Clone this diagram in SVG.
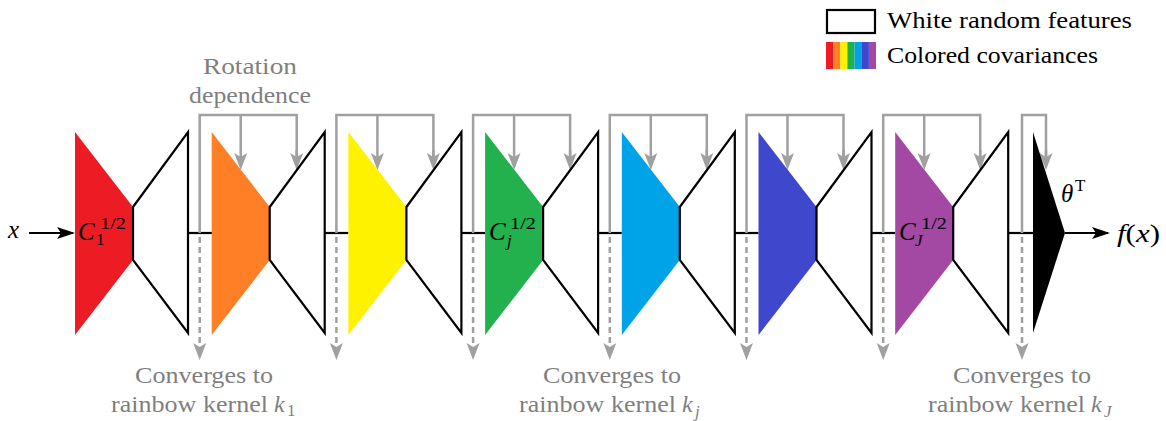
<svg xmlns="http://www.w3.org/2000/svg" width="1166" height="421" viewBox="0 0 1166 421">
<style>
.wf{fill:#fff;stroke:#000;stroke-width:2.2;stroke-linejoin:miter}
.bl{stroke:#000;stroke-width:2.2;fill:none}
.gs{stroke:#a0a0a0;stroke-width:2.5;fill:none}
.gd{stroke:#a0a0a0;stroke-width:2.5;fill:none;stroke-dasharray:6 4}
.gt{font-family:"Liberation Serif","DejaVu Serif",serif;font-size:24px;fill:#7f7f7f}
.lt{font-family:"Liberation Serif","DejaVu Serif",serif;font-size:24px;fill:#000}
.m{font-family:"Liberation Serif","DejaVu Serif",serif;font-style:italic;font-size:25px;fill:#000}
.s{font-family:"Liberation Serif","DejaVu Serif",serif;font-size:17px;fill:#000}
.gm{font-family:"Liberation Serif","DejaVu Serif",serif;font-style:italic;font-size:24px;fill:#7f7f7f}
.gs2{font-family:"Liberation Serif","DejaVu Serif",serif;font-size:17px;fill:#7f7f7f}
</style>
<defs>
<marker id="ga" viewBox="-18 -8 20 16" refX="-12" refY="0" markerWidth="20" markerHeight="16" orient="auto" markerUnits="userSpaceOnUse">
<path d="M0,0 L-17,-6.5 L-13,0 L-17,6.5 Z" fill="#a0a0a0"/>
</marker>
<marker id="ba" viewBox="-20 -8 22 16" refX="-2" refY="0" markerWidth="22" markerHeight="16" orient="auto" markerUnits="userSpaceOnUse">
<path d="M0,0 L-18,-6 L-14,0 L-18,6 Z" fill="#000"/>
</marker>
</defs>

<g id="legend">
<rect x="827" y="10" width="48" height="23" fill="#fff" stroke="#000" stroke-width="2.2"/>
<text class="lt" x="887" y="28" textLength="245" lengthAdjust="spacingAndGlyphs">White random features</text>
<rect x="826" y="42" width="7.2" height="27" fill="#ED1C24"/>
<rect x="833.1" y="42" width="7.2" height="27" fill="#FF7F27"/>
<rect x="840.3" y="42" width="7.2" height="27" fill="#FFF200"/>
<rect x="847.4" y="42" width="7.2" height="27" fill="#22B14C"/>
<rect x="854.6" y="42" width="7.2" height="27" fill="#00A2E8"/>
<rect x="861.7" y="42" width="7.2" height="27" fill="#3F48CC"/>
<rect x="868.9" y="42" width="7.1" height="27" fill="#A349A4"/>
<text class="lt" x="887" y="63" textLength="211" lengthAdjust="spacingAndGlyphs">Colored covariances</text>
</g>

<g id="connectors">
<line class="bl" x1="29" y1="233" x2="73" y2="233" marker-end="url(#ba)"/>
<line class="bl" x1="188" y1="233" x2="212" y2="233"/>
<line class="bl" x1="324.7" y1="233" x2="348.4" y2="233"/>
<line class="bl" x1="461.4" y1="233" x2="485.1" y2="233"/>
<line class="bl" x1="598.1" y1="233" x2="621.8" y2="233"/>
<line class="bl" x1="734.8" y1="233" x2="758.5" y2="233"/>
<line class="bl" x1="871.5" y1="233" x2="895.2" y2="233"/>
<line class="bl" x1="1008.2" y1="233" x2="1033" y2="233"/>
<line class="bl" x1="1065" y1="233" x2="1108" y2="233" marker-end="url(#ba)"/>

<g id="rotation">
<path class="gs" d="M199.7,233 V115 H296.7 V158"/><line class="gs" x1="240.7" y1="115" x2="240.7" y2="158" marker-end="url(#ga)"/><line class="gs" x1="296.7" y1="150" x2="296.7" y2="158" marker-end="url(#ga)"/>
<path class="gs" d="M336.4,233 V115 H433.4 V158"/><line class="gs" x1="377.4" y1="115" x2="377.4" y2="158" marker-end="url(#ga)"/><line class="gs" x1="433.4" y1="150" x2="433.4" y2="158" marker-end="url(#ga)"/>
<path class="gs" d="M473.1,233 V115 H570.1 V158"/><line class="gs" x1="514.1" y1="115" x2="514.1" y2="158" marker-end="url(#ga)"/><line class="gs" x1="570.1" y1="150" x2="570.1" y2="158" marker-end="url(#ga)"/>
<path class="gs" d="M609.8,233 V115 H706.8 V158"/><line class="gs" x1="650.8" y1="115" x2="650.8" y2="158" marker-end="url(#ga)"/><line class="gs" x1="706.8" y1="150" x2="706.8" y2="158" marker-end="url(#ga)"/>
<path class="gs" d="M746.5,233 V115 H843.5 V158"/><line class="gs" x1="787.5" y1="115" x2="787.5" y2="158" marker-end="url(#ga)"/><line class="gs" x1="843.5" y1="150" x2="843.5" y2="158" marker-end="url(#ga)"/>
<path class="gs" d="M883.2,233 V115 H980.2 V158"/><line class="gs" x1="924.2" y1="115" x2="924.2" y2="158" marker-end="url(#ga)"/><line class="gs" x1="980.2" y1="150" x2="980.2" y2="158" marker-end="url(#ga)"/>
<path class="gs" d="M1022,233 V115 H1046 V158"/><line class="gs" x1="1046" y1="150" x2="1046" y2="158" marker-end="url(#ga)"/>
</g>
<g id="convergence">
<line class="gd" x1="199.7" y1="237" x2="199.7" y2="348" marker-end="url(#ga)"/>
<line class="gd" x1="336.4" y1="237" x2="336.4" y2="348" marker-end="url(#ga)"/>
<line class="gd" x1="473.1" y1="237" x2="473.1" y2="348" marker-end="url(#ga)"/>
<line class="gd" x1="609.8" y1="237" x2="609.8" y2="348" marker-end="url(#ga)"/>
<line class="gd" x1="746.5" y1="237" x2="746.5" y2="348" marker-end="url(#ga)"/>
<line class="gd" x1="883.2" y1="237" x2="883.2" y2="348" marker-end="url(#ga)"/>
<line class="gd" x1="1022" y1="237" x2="1022" y2="348" marker-end="url(#ga)"/>
</g>
</g>

<g id="block1">
<polygon points="75,132 133,207 133,260 75,335" fill="#ED1C24"/>
<polygon class="wf" points="133,207 188,132 188,333 133,260"/>
<text class="m" x="78" y="240">C</text><text class="s" x="100" y="229" textLength="26" lengthAdjust="spacingAndGlyphs">1/2</text><text class="s" x="96" y="245">1</text>
</g>
<g id="block2">
<polygon points="211.7,132 269.7,207 269.7,260 211.7,335" fill="#FF7F27"/>
<polygon class="wf" points="269.7,207 324.7,132 324.7,333 269.7,260"/>
</g>
<g id="block3">
<polygon points="348.4,132 406.4,207 406.4,260 348.4,335" fill="#FFF200"/>
<polygon class="wf" points="406.4,207 461.4,132 461.4,333 406.4,260"/>
</g>
<g id="block4">
<polygon points="485.1,132 543.1,207 543.1,260 485.1,335" fill="#22B14C"/>
<polygon class="wf" points="543.1,207 598.1,132 598.1,333 543.1,260"/>
<text class="m" x="489" y="240">C</text><text class="s" x="510" y="229" textLength="26" lengthAdjust="spacingAndGlyphs">1/2</text><text class="s" x="507" y="246" font-style="italic">j</text>
</g>
<g id="block5">
<polygon points="621.8,132 679.8,207 679.8,260 621.8,335" fill="#00A2E8"/>
<polygon class="wf" points="679.8,207 734.8,132 734.8,333 679.8,260"/>
</g>
<g id="block6">
<polygon points="758.5,132 816.5,207 816.5,260 758.5,335" fill="#3F48CC"/>
<polygon class="wf" points="816.5,207 871.5,132 871.5,333 816.5,260"/>
</g>
<g id="block7">
<polygon points="895.2,132 953.2,207 953.2,260 895.2,335" fill="#A349A4"/>
<polygon class="wf" points="953.2,207 1008.2,132 1008.2,333 953.2,260"/>
<text class="m" x="899" y="240">C</text><text class="s" x="921" y="229" textLength="26" lengthAdjust="spacingAndGlyphs">1/2</text><text class="s" x="915" y="246" font-style="italic">J</text>
</g>
<g id="readout">
<polygon points="1033,132 1065,233 1033,333" fill="#000"/>
<text class="m" x="1061" y="202">θ</text><text class="s" x="1075" y="191">T</text>
</g>

<g id="io">
<text class="m" x="8" y="238">x</text>
<text class="m" x="1117" y="242" textLength="43" lengthAdjust="spacingAndGlyphs">f<tspan font-style="normal">(</tspan>x<tspan font-style="normal">)</tspan></text>
</g>

<g id="labels">
<text class="gt" x="203" y="74" textLength="94" lengthAdjust="spacingAndGlyphs">Rotation</text>
<text class="gt" x="189" y="103" textLength="122" lengthAdjust="spacingAndGlyphs">dependence</text>

<text class="gt" x="135" y="383" textLength="138" lengthAdjust="spacingAndGlyphs">Converges to</text>
<text class="gt" x="111" y="412" textLength="157" lengthAdjust="spacingAndGlyphs">rainbow kernel</text>
<text class="gm" x="274" y="412">k</text><text class="gs2" x="287" y="416">1</text>

<text class="gt" x="543" y="383" textLength="138" lengthAdjust="spacingAndGlyphs">Converges to</text>
<text class="gt" x="519" y="412" textLength="157" lengthAdjust="spacingAndGlyphs">rainbow kernel</text>
<text class="gm" x="682" y="412">k</text><text class="gs2" x="695" y="417" font-style="italic">j</text>

<text class="gt" x="953" y="383" textLength="138" lengthAdjust="spacingAndGlyphs">Converges to</text>
<text class="gt" x="928" y="412" textLength="157" lengthAdjust="spacingAndGlyphs">rainbow kernel</text>
<text class="gm" x="1091" y="412">k</text><text class="gs2" x="1104" y="417" font-style="italic">J</text>
</g>
</svg>
